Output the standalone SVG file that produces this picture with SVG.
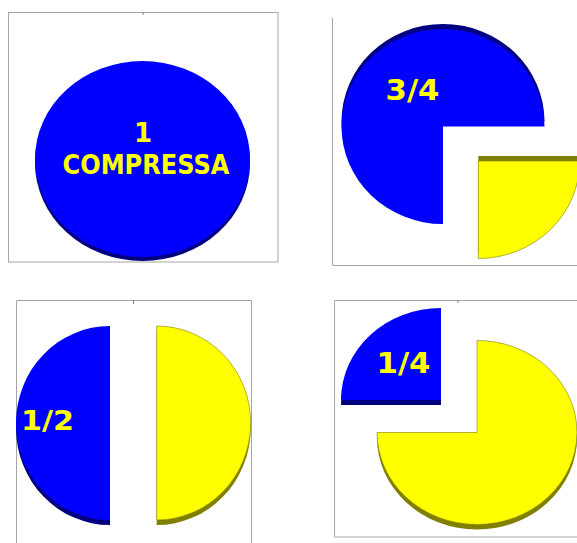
<svg xmlns="http://www.w3.org/2000/svg" width="577" height="543" viewBox="0 0 577 543">
<style>
.frame{fill:none;stroke:#a6a6a6;stroke-width:1}
.tick{stroke:#808080;stroke-width:1}
.blue{fill:#0000ff}
.blueS{fill:#000080}
.yel{fill:#ffff00;stroke:#808000;stroke-width:0.6}
.yelS{fill:#808000}
.lbl{font-family:"DejaVu Sans","Liberation Sans",sans-serif;font-weight:bold;fill:#ffff00}
</style>
<rect width="577" height="543" fill="#ffffff"/>

<g id="panel-whole">
  <rect class="frame" x="8.5" y="12.5" width="269.5" height="249.5"/>
  <line class="tick" x1="143" y1="12" x2="143" y2="15"/>
  <ellipse class="blueS" cx="142.5" cy="163" rx="107.5" ry="98"/>
  <ellipse class="blue" cx="142.5" cy="159" rx="107.5" ry="98"/>
  <text class="lbl" x="143" y="142" font-size="26" text-anchor="middle">1</text>
  <text class="lbl" x="146" y="174" font-size="26" text-anchor="middle" textLength="167" lengthAdjust="spacingAndGlyphs">COMPRESSA</text>
</g>

<g id="panel-three-quarters">
  <polyline class="frame" points="332.5,18 332.5,265.5 577,265.5"/>
  <path class="blueS" transform="translate(0,-5)" d="M443,126.5 L544.5,126.5 A101.5,97.5 0 1 0 443,224 Z"/>
  <path class="blue" d="M443,126.5 L544.5,126.5 A101.5,97.5 0 1 0 443,224 Z"/>
  <path class="yelS" transform="translate(0,-5)" d="M478.3,161 L579.8,161 A101.5,97.5 0 0 1 478.3,258.5 Z"/>
  <path class="yel" d="M478.3,161 L579.8,161 A101.5,97.5 0 0 1 478.3,258.5 Z"/>
  <text class="lbl" x="385.5" y="100" font-size="29" textLength="54" lengthAdjust="spacingAndGlyphs">3/4</text>
</g>

<g id="panel-half">
  <polyline class="frame" points="16.5,543 16.5,300.5 251.5,300.5 251.5,543"/>
  <line class="tick" x1="133.5" y1="300" x2="133.5" y2="304"/>
  <path class="blueS" transform="translate(0,5)" d="M110,326 A94,97 0 0 0 110,520 Z"/>
  <path class="blue" d="M110,326 A94,97 0 0 0 110,520 Z"/>
  <path class="yelS" transform="translate(0,5)" d="M156.7,326 A94,97 0 0 1 156.7,520 Z"/>
  <path class="yel" d="M156.7,326 A94,97 0 0 1 156.7,520 Z"/>
  <text class="lbl" x="21" y="430" font-size="27" textLength="53" lengthAdjust="spacingAndGlyphs">1/2</text>
</g>

<g id="panel-quarter">
  <polyline class="frame" points="577,300.5 334.5,300.5 334.5,537 577,537"/>
  <line class="tick" x1="458" y1="300" x2="458" y2="303"/>
  <path class="blueS" transform="translate(0,5)" d="M441,400 L441,308 A100,92 0 0 0 341,400 Z"/>
  <path class="blue" d="M441,400 L441,308 A100,92 0 0 0 341,400 Z"/>
  <path class="yelS" transform="translate(0,5)" d="M477,432.5 L477,340.5 A100,92 0 1 1 377,432.5 Z"/>
  <path class="yel" d="M477,432.5 L477,340.5 A100,92 0 1 1 377,432.5 Z"/>
  <text class="lbl" x="376.5" y="372.5" font-size="28" textLength="54" lengthAdjust="spacingAndGlyphs">1/4</text>
</g>
</svg>
